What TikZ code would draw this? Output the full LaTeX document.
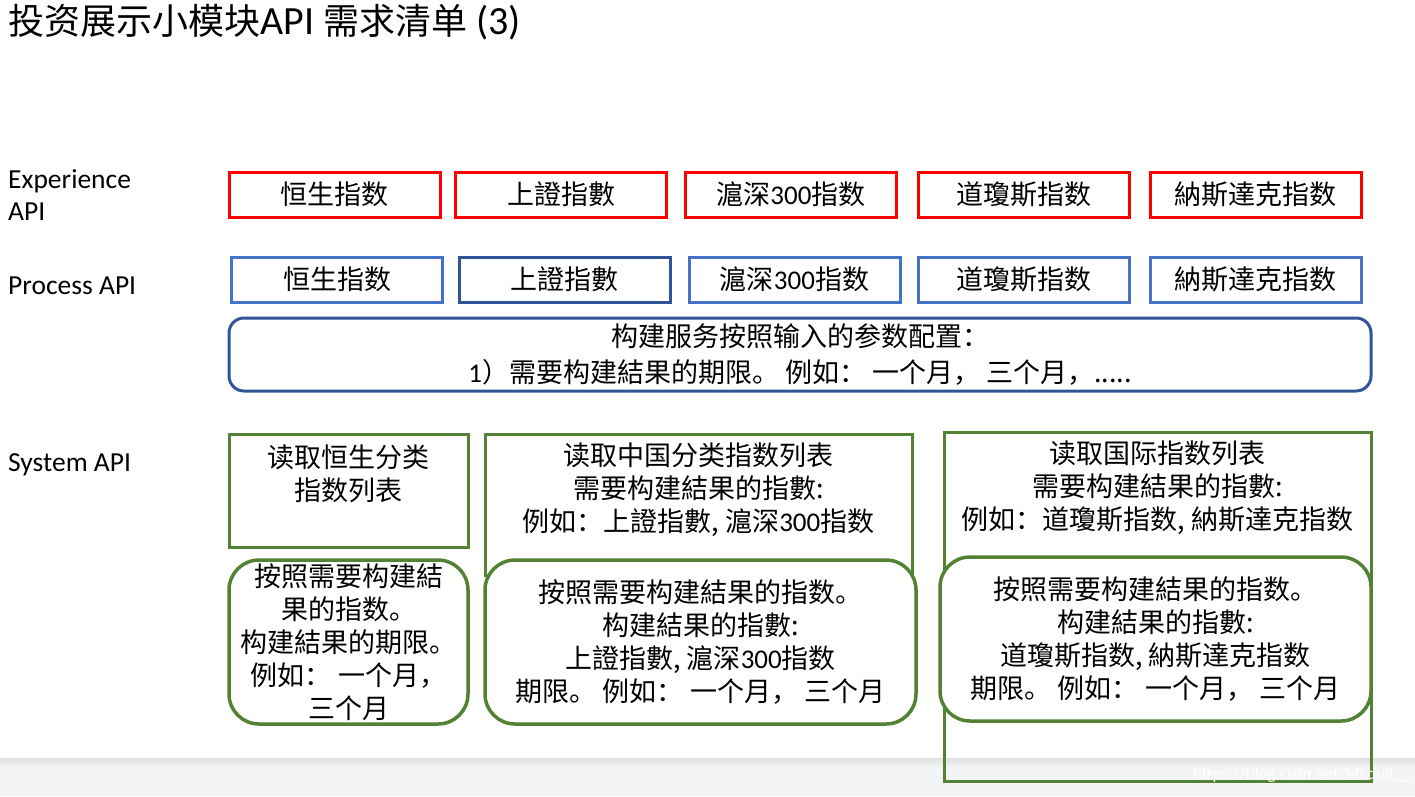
\documentclass[tikz,border=0pt]{standalone}
\usepackage{fontspec}
\setmainfont{Carlito}
\newfontfamily\zh{Noto Sans CJK SC}
\newfontfamily\en{Carlito}
\newcommand{\zt}{\zh\fontsize{36}{42}\selectfont}
\usepackage{tikz}
\usetikzlibrary{positioning}
\definecolor{expred}{HTML}{FF0000}
\definecolor{procblue}{HTML}{4472C4}
\definecolor{procdark}{HTML}{2F5597}
\definecolor{sysgreen}{HTML}{548235}
\definecolor{bandgray}{HTML}{F3F4F6}

\begin{document}
\begin{tikzpicture}[x=1pt, y=-1pt,
  idxbox/.style={line width=3pt, minimum width=211pt, minimum height=45pt, inner sep=0pt,
    font=\zh\fontsize{27}{33}\selectfont},
  apilabel/.style={anchor=west, inner sep=0pt, align=left, font=\fontsize{27.5}{32}\selectfont},
  systext/.style={inner sep=0pt, align=center, font=\zh\fontsize{27}{33}\selectfont},
  sysframe/.style={draw=sysgreen, line width=3pt, inner sep=0pt},
  sysround/.style={draw=sysgreen, line width=3.5pt, rounded corners=30pt, fill=white,
    inner sep=0pt, align=center, font=\zh\fontsize{27}{33}\selectfont}]
  \useasboundingbox (0,0) rectangle (1415,796);

  % 底部灰条
  \fill[bandgray] (0,758) rectangle (1415,796);
  \shade[top color=black!12, bottom color=bandgray] (0,758) rectangle (1415,767);

  % 标题
  \node[anchor=west, inner sep=0pt, font=\fontsize{40}{42}\selectfont] (title) at (8,22)
    {{\zt 投资展示小模块}API {\zt 需求清单} (3)};

  % 左侧层名
  \node[apilabel] (explabel) at (8,195) {Experience\\API};
  \node[apilabel] (proclabel) at (8,286) {Process API};
  \node[apilabel] (syslabel) at (8,465) {System API};

  % Experience API
  \foreach \n/\x/\t in {1/334.5/恒生指数, 2/561/上證指數, 3/791/{滬深{\en 300}指数},
                        4/1023.5/道瓊斯指数, 5/1255.5/納斯達克指数} {
    \node[idxbox, draw=expred] (exp\n) at (\x,194.5) {\t};
  }

  % Process API
  \foreach \n/\x/\c/\t in {1/337/procblue/恒生指数, 2/564.5/procdark/上證指數,
                           3/794.5/procblue/{滬深{\en 300}指数},
                           4/1024/procblue/道瓊斯指数, 5/1255.5/procblue/納斯達克指数} {
    \node[idxbox, draw=\c] (proc\n) at (\x,279.5) {\t};
  }
  \node[draw=procdark, line width=3pt, rounded corners=15pt, minimum width=1142pt,
    minimum height=73pt, inner sep=0pt, align=center, font=\zh\fontsize{27}{36}\selectfont]
    (params) at (800,354.5)
    {构建服务按照输入的参数配置：\\{\en 1}）需要构建結果的期限。 例如： 一个月， 三个月，.....};

  % System API
  \node[sysframe, minimum width=239pt, minimum height=113pt] (hslist) at (348.5,490.5) {};
  \node[systext] (hslisttext) at (348.5,473.5) {读取恒生分类\\指数列表};
  \node[sysframe, minimum width=427pt, minimum height=141pt] (cnlist) at (698.5,504.5) {};
  \node[systext] (cnlisttext) at (698.5,490) {读取中国分类指数列表\\需要构建結果的指數:\\例如：上證指數, 滬深{\en 300}指数};
  \node[sysframe, minimum width=427pt, minimum height=349pt] (intlist) at (1157.5,606.5) {};
  \node[systext] (intlisttext) at (1157.5,487.5) {读取国际指数列表\\需要构建結果的指數:\\例如：道瓊斯指数, 納斯達克指数};

  \node[sysround, minimum width=239pt, minimum height=164pt] (hsbuild) at (348.5,642)
    {按照需要构建結\\果的指数。\\构建結果的期限。\\例如： 一个月，\\三个月};
  \node[sysround, minimum width=431pt, minimum height=164pt] (cnbuild) at (700.5,642)
    {按照需要构建結果的指数。\\构建結果的指數:\\上證指數, 滬深{\en 300}指数\\期限。 例如： 一个月， 三个月};
  \node[sysround, minimum width=431pt, minimum height=164pt] (intbuild) at (1155.5,639)
    {按照需要构建結果的指数。\\构建結果的指數:\\道瓊斯指数, 納斯達克指数\\期限。 例如： 一个月， 三个月};

  % 水印
  \node[anchor=east, inner sep=0pt, text=white, font=\fontsize{17}{17}\selectfont] (mark)
    at (1410,775) {https://blog.csdn.net/Mcdull\_\_};
\end{tikzpicture}
\end{document}
